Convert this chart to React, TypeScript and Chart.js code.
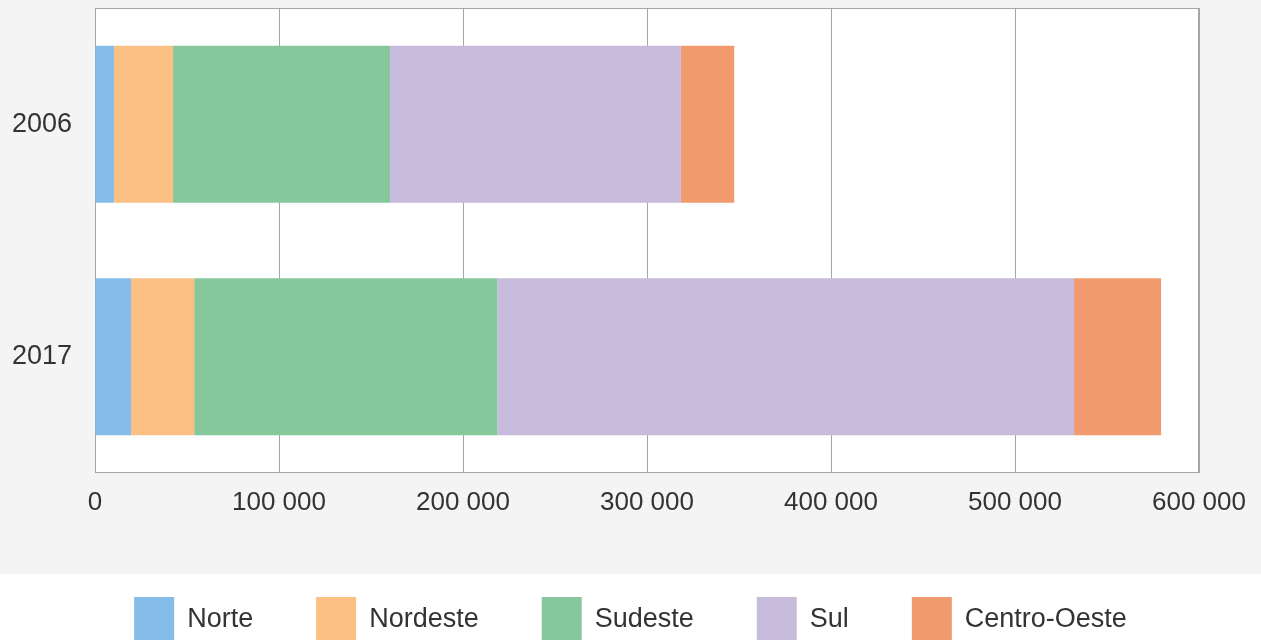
import React, { useEffect, useRef } from "react";
import { Chart, registerables } from "chart.js";

Chart.register(...registerables);

const categories = ["2006", "2017"];
const seriesNames = ["Norte", "Nordeste", "Sudeste", "Sul", "Centro-Oeste"];
const norte = [10300, 19600];
const nordeste = [32100, 34300];
const sudeste = [118000, 164800];
const sul = [158000, 313400];
const centroOeste = [29000, 47300];
const seriesColors = ["#84bde8", "#fcc084", "#86c79b", "#c7bbdb", "#f19a6e"];
const xTicks = [0, 100000, 200000, 300000, 400000, 500000, 600000];

const FONT = "'Liberation Sans', Arial, sans-serif";

const bgPlugin = {
  id: "bgPlugin",
  beforeDraw(chart: any) {
    const { ctx, width, height, chartArea } = chart;
    ctx.save();
    ctx.fillStyle = "#ffffff";
    ctx.fillRect(0, 0, width, height);
    ctx.fillStyle = "#f4f4f4";
    ctx.fillRect(0, 0, width, 574);
    ctx.fillStyle = "#ffffff";
    ctx.fillRect(chartArea.left, chartArea.top, chartArea.right - chartArea.left, chartArea.bottom - chartArea.top);
    ctx.restore();
  },
  beforeDatasetsDraw(chart: any) {
    const { ctx, chartArea } = chart;
    ctx.save();
    ctx.strokeStyle = "#a6a6a6";
    ctx.lineWidth = 1;
    ctx.strokeRect(Math.round(chartArea.left) + 0.5, Math.round(chartArea.top) + 0.5,
      Math.round(chartArea.right - chartArea.left) - 1, Math.round(chartArea.bottom - chartArea.top) - 1);
    ctx.restore();
  },
  afterDraw(chart: any) {
    const { ctx } = chart;
    const items = chart.data.datasets;
    const boxW = 40, boxH = 43, gap = 13, spacing = 63;
    ctx.save();
    ctx.font = `27px ${FONT}`;
    const widths = items.map((d: any) => boxW + gap + ctx.measureText(d.label).width);
    const total = widths.reduce((a: number, b: number) => a + b, 0) + spacing * (items.length - 1);
    let x = (chart.width - total) / 2;
    const yTop = 597;
    items.forEach((d: any, i: number) => {
      ctx.fillStyle = d.backgroundColor;
      ctx.fillRect(x, yTop, boxW, boxH);
      ctx.fillStyle = "#333333";
      ctx.textBaseline = "middle";
      ctx.textAlign = "left";
      ctx.fillText(d.label, x + boxW + gap, yTop + boxH / 2 + 1);
      x += widths[i] + spacing;
    });
    ctx.restore();
  },
};

export default function App() {
  const ref = useRef<HTMLCanvasElement>(null);
  useEffect(() => {
    document.body.style.margin = "0";
    const values = [norte, nordeste, sudeste, sul, centroOeste];
    const chart = new Chart(ref.current as HTMLCanvasElement, {
      type: "bar",
      data: {
        labels: categories,
        datasets: seriesNames.map((name, i) => ({
          label: name,
          data: values[i],
          backgroundColor: seriesColors[i],
          borderWidth: 0,
          categoryPercentage: 1,
          barPercentage: 0.675,
        })),
      },
      options: {
        indexAxis: "y",
        responsive: false,
        animation: false,
        layout: { padding: { top: 8, right: 62, bottom: 131, left: 0 } },
        plugins: {
          legend: { display: false },
          tooltip: { enabled: false },
        },
        scales: {
          x: {
            stacked: true,
            min: 0,
            max: 600000,
            afterBuildTicks: (scale: any) => {
              scale.ticks = xTicks.map((v) => ({ value: v }));
            },
            afterFit: (scale: any) => {
              scale.height = 40;
            },
            grid: { color: "#a6a6a6", drawTicks: false, lineWidth: 1 },
            border: { display: false },
            ticks: {
              padding: 14,
              color: "#333333",
              font: { family: FONT, size: 26 },
              maxRotation: 0,
              autoSkip: false,
              callback: (v: any) => Number(v).toLocaleString("pt-BR").replace(/\./g, " "),
            },
          },
          y: {
            stacked: true,
            afterFit: (scale: any) => {
              scale.width = 95;
              scale.paddingTop = 0;
              scale.paddingBottom = 0;
            },
            grid: { display: false, drawTicks: false },
            border: { display: false },
            ticks: {
              padding: 23,
              color: "#333333",
              font: { family: FONT, size: 27 },
            },
          },
        },
      },
      plugins: [bgPlugin],
    });
    return () => chart.destroy();
  }, []);
  return (
    <div style={{ position: "absolute", left: 0, top: 0, width: 1261, height: 644 }}>
      <canvas ref={ref} width={1261} height={644} style={{ display: "block" }} />
    </div>
  );
}
